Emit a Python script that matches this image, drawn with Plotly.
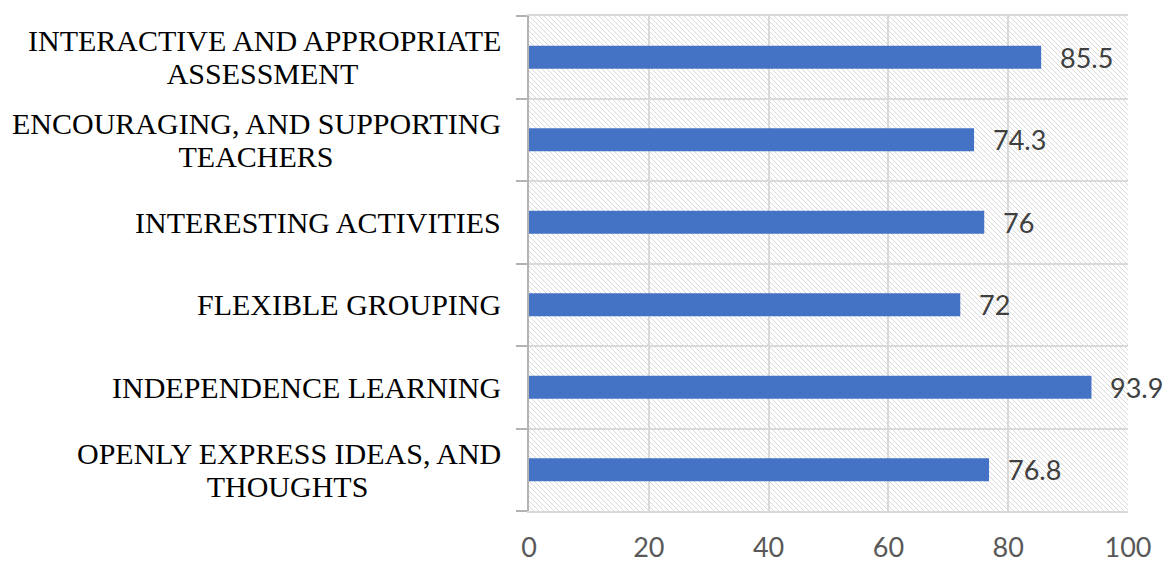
import plotly.graph_objects as go
import urllib.parse

categories = [
    "OPENLY EXPRESS IDEAS, AND<br>THOUGHTS",
    "INDEPENDENCE LEARNING",
    "FLEXIBLE GROUPING",
    "INTERESTING ACTIVITIES",
    "ENCOURAGING, AND SUPPORTING<br>TEACHERS",
    "INTERACTIVE AND APPROPRIATE<br>ASSESSMENT",
]
values = [76.8, 93.9, 72, 76, 74.3, 85.5]
x_ticks = [0, 20, 40, 60, 80, 100]

W, H = 1166, 562
L, R, T, B = 529, 38, 16, 51
pw, ph = W - L - R, H - T - B
# approximate rendered width (px) of the first line of two-line labels, used to centre line 2
first_line_width = {
    "OPENLY EXPRESS IDEAS, AND": 427,
    "ENCOURAGING, AND SUPPORTING": 490,
    "INTERACTIVE AND APPROPRIATE": 477,
}

svg = (
    f"<svg xmlns='http://www.w3.org/2000/svg' width='{pw}' height='{ph}'>"
    "<defs><pattern id='h' width='5' height='5' patternUnits='userSpaceOnUse'>"
    "<rect width='5' height='5' fill='white'/>"
    "<path d='M-1,-1 L6,6 M-1,4 L1,6 M4,-1 L6,1' stroke='#d9d9d9' stroke-width='1'/>"
    "</pattern></defs>"
    f"<rect width='{pw}' height='{ph}' fill='url(#h)'/></svg>"
)
svg_uri = "data:image/svg+xml;charset=utf-8," + urllib.parse.quote(svg)

fig = go.Figure()
fig.add_trace(go.Bar(
    x=values, y=categories, orientation="h",
    marker=dict(color="#4472C4", line=dict(width=0)),
    width=0.28, hoverinfo="x+y",
))

label_font = dict(family="Liberation Serif", size=30, color="#000000")
annotations = []
for c, v in zip(categories, values):
    annotations.append(dict(
        x=v, y=c, xref="x", yref="y", text=str(v), showarrow=False,
        xanchor="left", yanchor="middle", xshift=17,
        font=dict(family="Lato", size=27, color="#404040"),
    ))
    lines = c.split("<br>")
    if len(lines) == 1:
        annotations.append(dict(
            x=0, y=c, xref="paper", yref="y", text=c, showarrow=False,
            xanchor="right", yanchor="middle", xshift=-26, align="center",
            font=label_font,
        ))
    else:
        w1 = first_line_width[lines[0]]
        annotations.append(dict(
            x=0, y=c, xref="paper", yref="y", text=lines[0], showarrow=False,
            xanchor="right", yanchor="middle", xshift=-26, yshift=16.5,
            align="center", font=label_font,
        ))
        annotations.append(dict(
            x=0, y=c, xref="paper", yref="y", text=lines[1], showarrow=False,
            xanchor="right", yanchor="middle", xshift=-26, yshift=-16.5,
            width=w1, align="center", font=label_font,
        ))

fig.update_layout(
    width=W, height=H,
    margin=dict(l=L, r=R, t=T, b=B, pad=0, autoexpand=False),
    paper_bgcolor="white",
    plot_bgcolor="rgba(0,0,0,0)",
    showlegend=False,
    annotations=annotations,
    images=[dict(
        source=svg_uri, xref="paper", yref="paper", x=0, y=1,
        sizex=1, sizey=1, xanchor="left", yanchor="top",
        sizing="stretch", layer="below",
    )],
    xaxis=dict(
        range=[0, 100], tickvals=x_ticks, ticktext=[str(t) for t in x_ticks],
        showgrid=True, gridcolor="#d9d9d9", gridwidth=1.5, automargin=False,
        zeroline=False, showline=True, linecolor="#d9d9d9", linewidth=1.5, mirror=True,
        ticks="", ticklabelstandoff=12,
        tickfont=dict(family="Lato", size=27, color="#595959"),
    ),
    yaxis=dict(
        type="category", categoryorder="array", categoryarray=categories,
        range=[-0.5, 5.5], tickson="boundaries", automargin=False,
        showgrid=True, gridcolor="#d9d9d9", gridwidth=1.5,
        showline=True, linecolor="#b3b3b3", linewidth=1.5,
        ticks="outside", ticklen=11, tickcolor="#b3b3b3", tickwidth=1.5,
        showticklabels=False, zeroline=False,
    ),
)

fig.write_html(
    "out.html",
    config={"displayModeBar": False},
    post_script="document.body.style.margin='0';",
)
